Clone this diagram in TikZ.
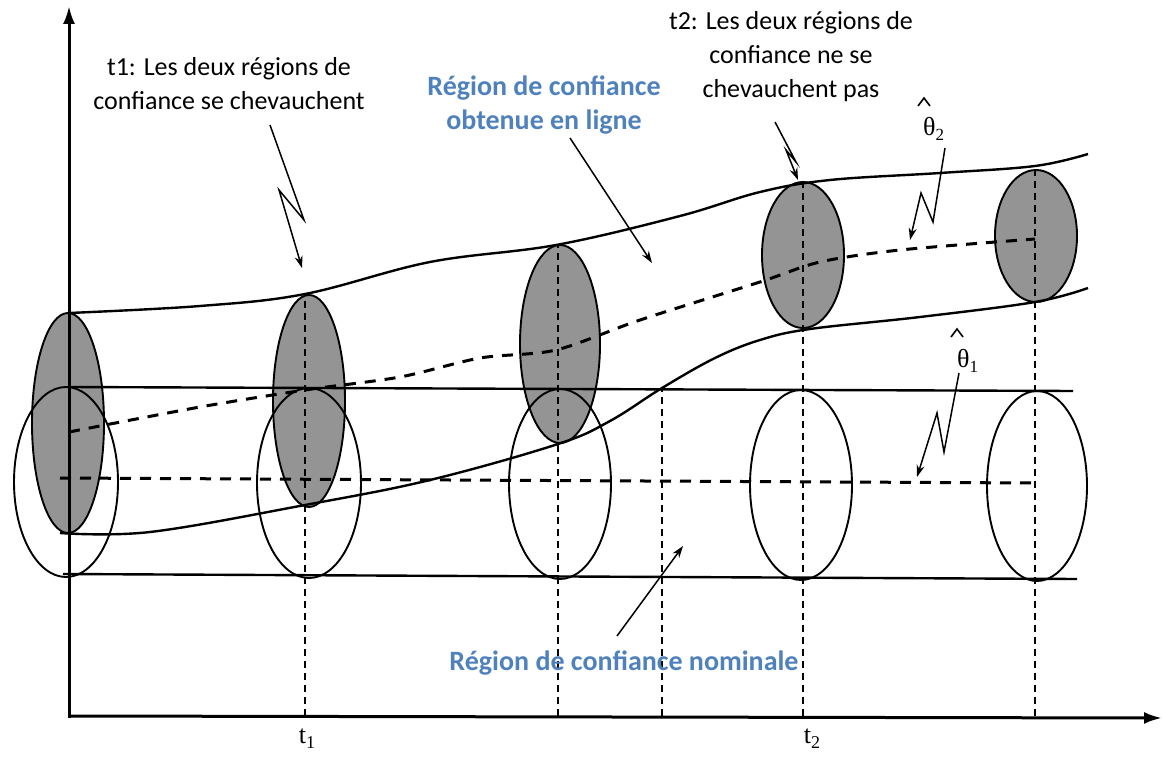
\documentclass[tikz,border=0pt]{standalone}
\usepackage{fontspec}
\setmainfont{Carlito}
\newfontfamily\serifgr{Liberation Serif}
\usetikzlibrary{arrows.meta}
\definecolor{offblue}{RGB}{79,129,189}
\begin{document}
\begin{tikzpicture}[x=1pt,y=-1pt,
  axis/.style={line width=3pt,-{Latex[length=18pt,width=12pt]}},
  curve/.style={line width=2.4pt},
  ell/.style={line width=1.9pt},
  shadefill/.style={fill=black!42},
  vdash/.style={line width=1.1pt,dash pattern=on 7pt off 5pt},
  hdash/.style={line width=3pt,dash pattern=on 11pt off 9pt},
  note/.style={font=\fontsize{26}{34}\selectfont, align=center, inner sep=0pt},
  bnote/.style={font=\fontsize{28}{34}\selectfont\bfseries, text=offblue, align=center, inner sep=0pt},
  ptr/.style={line width=1.5pt,-{Stealth[length=12pt,width=8pt]}},
  tlab/.style={font=\serifgr\fontsize{26}{26}\selectfont, inner sep=0pt},
  thlab/.style={font=\serifgr\fontsize{26}{26}\selectfont, inner sep=0pt, anchor=base west},
  caret/.style={line width=1.6pt, line join=miter}
]
\useasboundingbox (0,0) rectangle (1162,757);

% shaded (online) confidence regions: fills
\fill[shadefill] (68,423) ellipse [x radius=36, y radius=110];
\fill[shadefill] (309,401) ellipse [x radius=36, y radius=106];
\fill[shadefill] (560,344) ellipse [x radius=40, y radius=99];
\fill[shadefill] (803,255) ellipse [x radius=41, y radius=73];
\fill[shadefill] (1036,236) ellipse [x radius=41, y radius=66];

% nominal ellipses
\draw[ell] (66,482) ellipse [x radius=52, y radius=95];
\draw[ell] (309,483) ellipse [x radius=52, y radius=95];
\draw[ell] (560,484) ellipse [x radius=51, y radius=95];
\draw[ell] (801,485) ellipse [x radius=51, y radius=95];
\draw[ell] (1037,486) ellipse [x radius=50, y radius=95];

% shaded outlines
\draw[ell] (68,423) ellipse [x radius=36, y radius=110];
\draw[ell] (309,401) ellipse [x radius=36, y radius=106];
\draw[ell] (560,344) ellipse [x radius=40, y radius=99];
\draw[ell] (803,255) ellipse [x radius=41, y radius=73];
\draw[ell] (1036,236) ellipse [x radius=41, y radius=66];

% vertical dashed projections
\draw[vdash] (305,716) -- (305,295);
\draw[vdash] (558,716) -- (558,245);
\draw[vdash] (662,716) -- (662,388);
\draw[vdash] (803,716) -- (803,182);
\draw[vdash] (1035,716) -- (1035,170);

% nominal band
\draw[curve] (69,387) -- (1073,391);
\draw[curve] (63,574) -- (1077,579);
\draw[hdash] (60,478) -- (1035,483);

% online band
\draw[curve] plot[smooth, tension=0.6] coordinates {(69,313) (200,306) (305,294) (430,262) (556,245) (680,216) (760,192) (830,180) (940,173) (1035,166) (1088,154)};
\draw[curve] plot[smooth, tension=0.6] coordinates {(60,533) (150,532) (305,505) (430,480) (558,444) (610,421) (662,388) (715,358) (760,340) (810,329) (920,317) (1035,302) (1088,288)};
\draw[hdash] plot[smooth, tension=0.5] coordinates {(69,432) (200,407) (305,390) (400,377) (480,358) (556,350) (640,320) (760,282) (820,262) (900,250) (1035,239)};

% axes
\coordinate (O) at (69,716);
\coordinate (ytop) at (69,6);
\coordinate (xend) at (1162,718);
\draw[axis] (69,718) -- (ytop);
\draw[axis] (O) -- (xend);

% axis labels
\node[tlab] (lt1) at (307,739) {t\raisebox{-5pt}{\fontsize{18}{18}\selectfont 1}};
\node[tlab] (lt2) at (812,739) {t\raisebox{-5pt}{\fontsize{18}{18}\selectfont 2}};

% texts
\node[note] (n1) at (229,84) {t1: Les deux régions de\\confiance se chevauchent};
\node[note] (n2) at (791,57) {t2: Les deux régions de\\confiance ne se\\chevauchent pas};
\node[bnote] (b1) at (544,105) {Région de confiance\\obtenue en ligne};
\node[bnote] (b2) at (624,663) {Région de confiance nominale};

% theta labels with hats
\node[thlab] (th2) at (923,136) {θ\raisebox{-5pt}{\fontsize{17}{17}\selectfont 2}};
\draw[caret] (918,106) -- (924,98) -- (930,106);
\node[thlab] (th1) at (957,367) {θ\raisebox{-5pt}{\fontsize{17}{17}\selectfont 1}};
\draw[caret] (951,337) -- (957,329) -- (963,337);

% pointers
\coordinate (a1s) at (270,125);
\coordinate (a1e) at (302,268);
\draw[ptr] (a1s) -- (304,220) -- (279,190) -- (a1e);

\coordinate (a2s) at (775,122);
\coordinate (a2e) at (798,180);
\draw[ptr] (a2s) -- (796,162) -- (786,150) -- (a2e);

\coordinate (a3s) at (945,148);
\coordinate (a3e) at (910,240);
\draw[ptr] (a3s) -- (933,222) -- (921,193) -- (a3e);

\coordinate (a4s) at (959,373);
\coordinate (a4e) at (917,477);
\draw[ptr] (a4s) -- (944,452) -- (937,413) -- (a4e);

\coordinate (b1e) at (652,263);
\draw[ptr] (570,138) -- (b1e);
\coordinate (b2e) at (683,546);
\draw[ptr] (617,636) -- (b2e);
\end{tikzpicture}
\end{document}
